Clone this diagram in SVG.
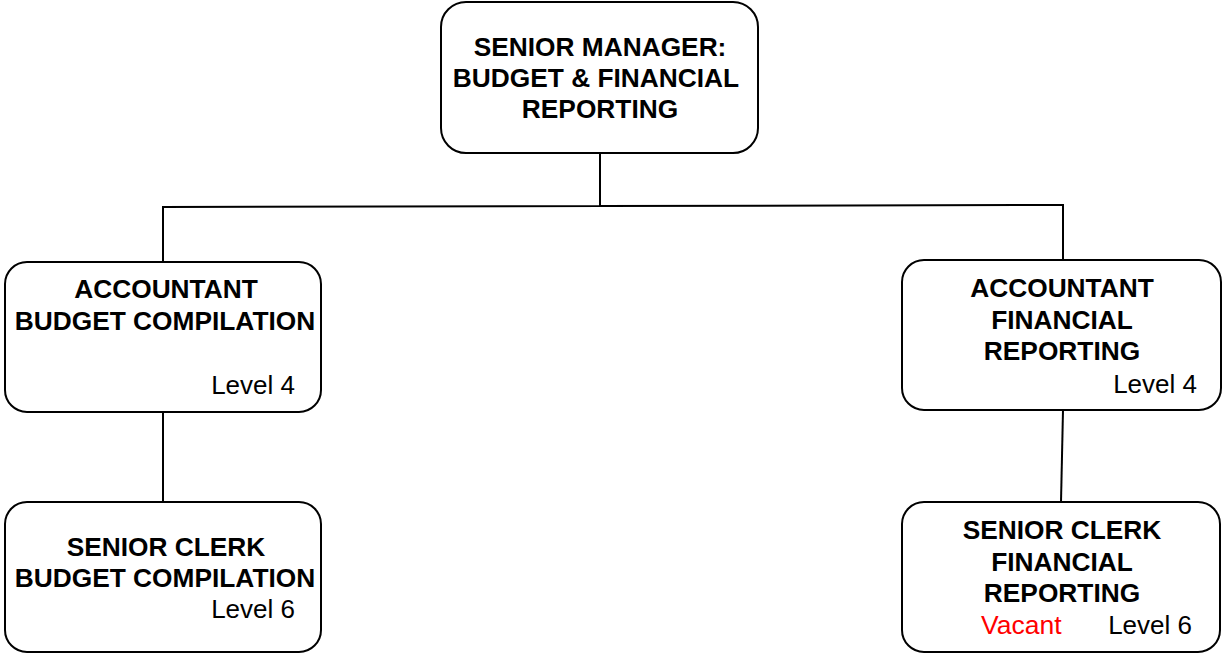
<svg xmlns="http://www.w3.org/2000/svg" width="1224" height="654" viewBox="0 0 1224 654">
  <style>
    .box { fill: #ffffff; stroke: #000000; stroke-width: 2; }
    .title { font-family: "Liberation Sans", Arial, sans-serif; font-size: 26.3px; font-weight: bold; fill: #000000; text-anchor: middle; }
    .level { font-family: "Liberation Sans", Arial, sans-serif; font-size: 26px; fill: #000000; text-anchor: end; }
    .vacant { font-family: "Liberation Sans", Arial, sans-serif; font-size: 26.5px; fill: #ff0000; text-anchor: start; }
    .link { fill: none; stroke: #000000; stroke-width: 2; }
  </style>
  <rect width="1224" height="654" fill="#ffffff"/>

  <!-- reporting lines -->
  <g id="connectors">
    <polyline class="link" points="600,153 600,206 163,207 163,262"/>
    <polyline class="link" points="600,206 1063,205 1063,260"/>
    <line class="link" x1="163" y1="412" x2="163" y2="502"/>
    <line class="link" x1="1063" y1="410" x2="1061" y2="502"/>
  </g>

  <g id="senior-manager">
    <rect class="box" x="441" y="2" width="317" height="151" rx="25" ry="25"/>
    <text class="title" x="600" y="56">SENIOR MANAGER:</text>
    <text class="title" x="596" y="87">BUDGET &amp; FINANCIAL</text>
    <text class="title" x="600" y="118">REPORTING</text>
  </g>

  <g id="accountant-budget">
    <rect class="box" x="5" y="262" width="316" height="150" rx="22" ry="22"/>
    <text class="title" x="166" y="298">ACCOUNTANT</text>
    <text class="title" x="165" y="330">BUDGET COMPILATION</text>
    <text class="level" x="295" y="394">Level 4</text>
  </g>

  <g id="accountant-reporting">
    <rect class="box" x="902" y="260" width="319" height="150" rx="22" ry="22"/>
    <text class="title" x="1062" y="297">ACCOUNTANT</text>
    <text class="title" x="1062" y="329">FINANCIAL</text>
    <text class="title" x="1062" y="360">REPORTING</text>
    <text class="level" x="1197" y="393">Level 4</text>
  </g>

  <g id="clerk-budget">
    <rect class="box" x="5" y="502" width="316" height="150" rx="22" ry="22"/>
    <text class="title" x="166" y="556">SENIOR CLERK</text>
    <text class="title" x="165" y="587">BUDGET COMPILATION</text>
    <text class="level" x="295" y="618">Level 6</text>
  </g>

  <g id="clerk-reporting">
    <rect class="box" x="902" y="502" width="318" height="150" rx="22" ry="22"/>
    <text class="title" x="1062" y="539">SENIOR CLERK</text>
    <text class="title" x="1062" y="571">FINANCIAL</text>
    <text class="title" x="1062" y="602">REPORTING</text>
    <text class="vacant" x="981" y="634">Vacant</text>
    <text class="level" x="1192" y="634">Level 6</text>
  </g>
</svg>
